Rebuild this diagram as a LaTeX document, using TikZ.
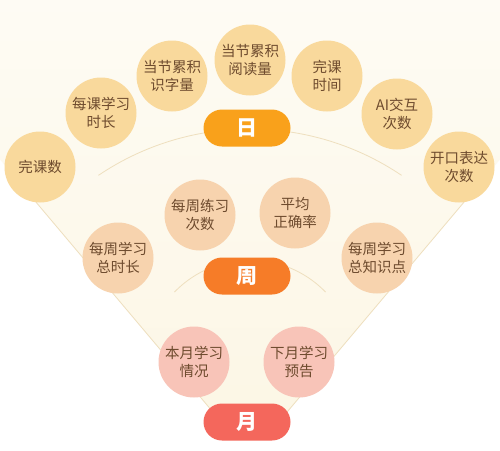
\documentclass[tikz,border=0pt]{standalone}
\usepackage{fontspec}
\newfontfamily\cjk{Noto Sans CJK SC}
\definecolor{cday}{HTML}{F9D99C}
\definecolor{cweek}{HTML}{F7D3AE}
\definecolor{cmonth}{HTML}{F8C4B8}
\definecolor{pday}{HTML}{F9A11B}
\definecolor{pweek}{HTML}{F67C28}
\definecolor{pmonth}{HTML}{F4675C}
\definecolor{fanlo}{HTML}{FCF6E4}
\definecolor{fanhi}{HTML}{FEFCF6}
\definecolor{fanline}{HTML}{EEDFBE}
\definecolor{txt}{HTML}{6E4B2E}
\begin{document}
\begin{tikzpicture}[x=1pt,y=-1pt,
  item/.style={circle,minimum size=71pt,inner sep=0pt,text=txt,align=center,
    font=\cjk\fontsize{14.5}{18.5}\selectfont},
  dayc/.style={item,fill=cday},
  weekc/.style={item,fill=cweek},
  monthc/.style={item,fill=cmonth},
  pill/.style={rounded corners=18.5pt,minimum width=87pt,minimum height=37pt,inner sep=0pt,
    text=white,font=\cjk\bfseries\fontsize{21}{21}\selectfont},
  fl/.style={draw=fanline,line width=0.8pt}]
\useasboundingbox (0,0) rectangle (500,450);
\fill[white] (0,0) rectangle (500,450);
% fan
\coordinate (apex) at (250,456);
\coordinate (fl) at (-185,-60);
\coordinate (fr) at (685,-60);
\begin{scope}
\clip (0,0) rectangle (500,438);
\shade[top color=fanhi,bottom color=fanlo] (apex) -- (fl) -- (fr) -- cycle;
\coordinate (le) at (30,195);
\coordinate (re) at (470,195);
\draw[fl] (apex) -- (le);
\draw[fl] (apex) -- (re);
\end{scope}
% arcs
\draw[fl] ([shift={(-124:271)}]250,400) arc[start angle=-124,end angle=-56,radius=271];
\draw[fl] ([shift={(-136:105)}]250,365) arc[start angle=-136,end angle=-44,radius=105];
% day circles
\node[dayc] (d1) at (40,167) {完课数};
\node[dayc] (d2) at (101,113) {每课学习\\时长};
\node[dayc] (d3) at (172,76) {当节累积\\识字量};
\node[dayc] (d4) at (250,60) {当节累积\\阅读量};
\node[dayc] (d5) at (327,76) {完课\\时间};
\node[dayc] (d6) at (397,114) {AI交互\\次数};
\node[dayc] (d7) at (459,167) {开口表达\\次数};
\node[pill,fill=pday] (day) at (247,128) {日};
% week circles
\node[weekc] (w1) at (118,258) {每周学习\\总时长};
\node[weekc] (w2) at (200,215) {每周练习\\次数};
\node[weekc] (w3) at (295,213) {平均\\正确率};
\node[weekc] (w4) at (377,258) {每周学习\\总知识点};
\node[pill,fill=pweek] (week) at (247,276) {周};
% month circles
\node[monthc] (m1) at (194,362) {本月学习\\情况};
\node[monthc] (m2) at (299,362) {下月学习\\预告};
\node[pill,fill=pmonth] (month) at (247,422) {月};
\end{tikzpicture}
\end{document}
